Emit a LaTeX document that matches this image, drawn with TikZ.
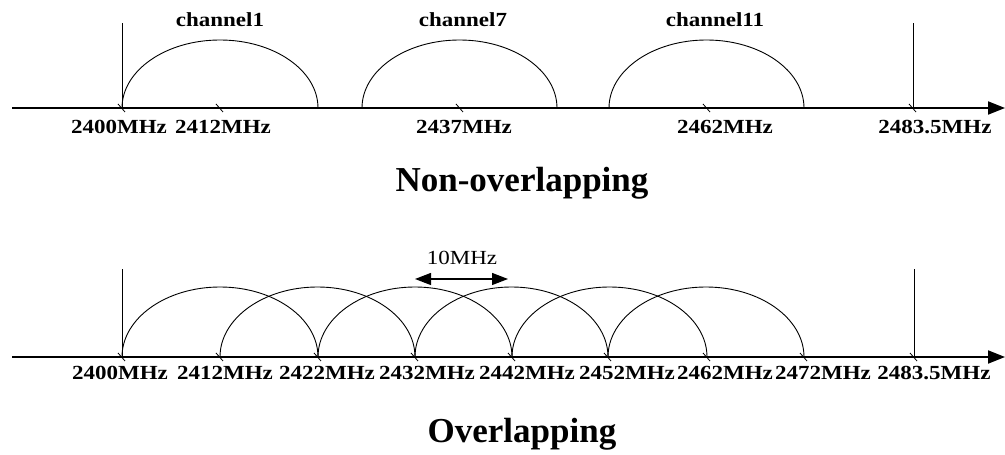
\documentclass[tikz,border=0pt]{standalone}
\usepackage{fontspec}
\setmainfont{Liberation Serif}
\newfontfamily\lbl[FakeStretch=1.15]{Liberation Serif}
\usetikzlibrary{arrows.meta}
\begin{document}
\begin{tikzpicture}[x=1pt,y=1pt,
  axis/.style={line width=2pt,-{Triangle[length=17pt,width=13pt]}},
  band/.style={line width=0.9pt},
  edge/.style={line width=0.8pt},
  tickmark/.style={line width=0.8pt},
  freq/.style={anchor=base,inner sep=0pt,font=\lbl\bfseries\fontsize{20}{22}\selectfont},
  chan/.style={anchor=base,inner sep=0pt,font=\lbl\bfseries\fontsize{20}{22}\selectfont},
  title/.style={anchor=base,inner sep=0pt,font=\bfseries\fontsize{35}{40}\selectfont},
  span/.style={line width=1.3pt,{Triangle[length=16pt,width=12pt]}-{Triangle[length=16pt,width=12pt]}},
  spanlbl/.style={anchor=base,inner sep=0pt,font=\lbl\fontsize{20}{22}\selectfont}]
\useasboundingbox (0,0) rectangle (1005,455);
% ---------------- Non-overlapping ----------------
\coordinate (a1s) at (12,347);
\coordinate (a1e) at (1005,347);
\draw[axis] (a1s) -- (a1e);
\coordinate (v1b) at (122,347); \coordinate (v1t) at (122,432);
\coordinate (v2b) at (913,347); \coordinate (v2t) at (913,432);
\draw[edge] (v1b) -- (v1t);
\draw[edge] (v2b) -- (v2t);
\draw[band] (122,347) arc[start angle=180,end angle=0,x radius=98,y radius=68];
\draw[band] (362,347) arc[start angle=180,end angle=0,x radius=97.5,y radius=68];
\draw[band] (609,347) arc[start angle=180,end angle=0,x radius=97.5,y radius=68];
\foreach \x in {122,220,460,707,913}{
  \draw[tickmark] (\x-4,351) -- (\x+3,343);
}
\node[chan] (ch1) at (220,428) {channel1};
\node[chan] (ch7) at (463,428) {channel7};
\node[chan] (ch11) at (715,428) {channel11};
\node[freq] (t2400) at (119,321) {2400MHz};
\node[freq] (t2412) at (223,321) {2412MHz};
\node[freq] (t2437) at (464,321) {2437MHz};
\node[freq] (t2462) at (725,321) {2462MHz};
\node[freq] (t2483) at (935,321) {2483.5MHz};
\node[title] (nonov) at (522,263) {Non-overlapping};
% ---------------- Overlapping ----------------
\coordinate (b1s) at (12,98);
\coordinate (b1e) at (1005,98);
\draw[axis] (b1s) -- (b1e);
\coordinate (w1b) at (122,98); \coordinate (w1t) at (122,186);
\coordinate (w2b) at (914,98); \coordinate (w2t) at (914,186);
\draw[edge] (w1b) -- (w1t);
\draw[edge] (w2b) -- (w2t);
\foreach \s/\e in {122/318,220/415,318/512,415/608,512/707,608/804}{
  \pgfmathsetmacro\r{(\e-\s)/2}
  \draw[band] (\s,98) arc[start angle=180,end angle=0,x radius=\r,y radius=70];
}
\foreach \x in {122,220,318,415,512,608,707,804,914}{
  \draw[tickmark] (\x-4,102) -- (\x+3,94);
}
\coordinate (s1) at (415,176);
\coordinate (s2) at (508,176);
\draw[span] (s1) -- (s2);
\node[spanlbl] (ten) at (462,190) {10MHz};
\node[freq] (b2400) at (120,75) {2400MHz};
\node[freq] (b2412) at (225,75) {2412MHz};
\node[freq] (b2422) at (327,75) {2422MHz};
\node[freq] (b2432) at (427,75) {2432MHz};
\node[freq] (b2442) at (527,75) {2442MHz};
\node[freq] (b2452) at (627,75) {2452MHz};
\node[freq] (b2462) at (725,75) {2462MHz};
\node[freq] (b2472) at (823,75) {2472MHz};
\node[freq] (b2483) at (934,75) {2483.5MHz};
\node[title] (ov) at (522,12) {Overlapping};
\end{tikzpicture}
\end{document}
